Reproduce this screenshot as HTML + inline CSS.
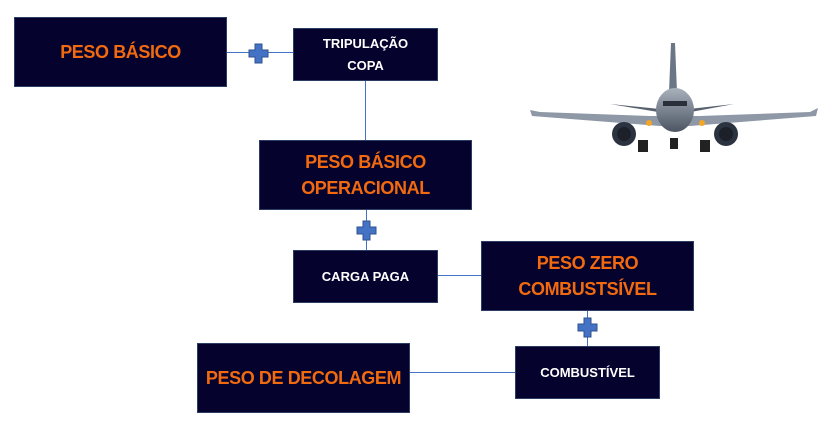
<!DOCTYPE html>
<html><head><meta charset="utf-8"><style>
body{margin:0;width:836px;height:425px;background:#fff;position:relative;overflow:hidden;font-family:"Liberation Sans",sans-serif}
.b{position:absolute;background:#05022e;border:1px solid #2c3d63;box-sizing:border-box;display:flex;align-items:center;justify-content:center;text-align:center;font-weight:bold}
.o{color:#f26a10;font-size:18px;line-height:26px;letter-spacing:-0.4px}
.w{color:#fff;font-size:13px;line-height:22px}
.h{position:absolute;height:1px;background:#4472c4}
.v{position:absolute;width:1px;background:#4472c4}
.p{position:absolute;width:21px;height:21px}
</style></head><body>
<div class="h" style="left:226px;top:52px;width:67px"></div>
<div class="v" style="left:365px;top:80px;height:60px"></div>
<div class="v" style="left:366px;top:209px;height:41px"></div>
<div class="h" style="left:437px;top:275px;width:44px"></div>
<div class="v" style="left:587px;top:310px;height:36px"></div>
<div class="h" style="left:409px;top:372px;width:106px"></div>

<div class="b o" style="left:14px;top:17px;width:213px;height:70px">PESO BÁSICO</div>
<div class="b w" style="left:293px;top:28px;width:145px;height:53px">TRIPULAÇÃO<br>COPA</div>
<div class="b o" style="left:259px;top:140px;width:213px;height:70px">PESO BÁSICO<br>OPERACIONAL</div>
<div class="b w" style="left:293px;top:250px;width:145px;height:53px">CARGA PAGA</div>
<div class="b o" style="left:481px;top:241px;width:213px;height:70px">PESO ZERO<br>COMBUSTSÍVEL</div>
<div class="b w" style="left:515px;top:346px;width:145px;height:53px">COMBUSTÍVEL</div>
<div class="b o" style="left:197px;top:343px;width:213px;height:70px">PESO DE DECOLAGEM</div>

<svg class="p" style="left:248px;top:43px" viewBox="0 0 21 21"><path d="M7 1h7v6h6v7h-6v6H7v-6H1V7h6z" fill="#4472c4" stroke="#2f528f" stroke-width="1"/></svg>
<svg class="p" style="left:356px;top:220px" viewBox="0 0 21 21"><path d="M7 1h7v6h6v7h-6v6H7v-6H1V7h6z" fill="#4472c4" stroke="#2f528f" stroke-width="1"/></svg>
<svg class="p" style="left:577px;top:317px" viewBox="0 0 21 21"><path d="M7 1h7v6h6v7h-6v6H7v-6H1V7h6z" fill="#4472c4" stroke="#2f528f" stroke-width="1"/></svg>

<svg style="position:absolute;left:520px;top:30px" width="310" height="140" viewBox="0 0 310 140">
<defs><linearGradient id="g" x1="0" y1="0" x2="0" y2="1"><stop offset="0" stop-color="#a9b1bd"/><stop offset="1" stop-color="#4c5563"/></linearGradient></defs>
<path d="M151 13 L155 13 L157 62 L149 62 Z" fill="#6b7686"/>
<path d="M10 80 L12 86 L140 96 L170 96 L296 86 L298 78 L290 82 L180 86 L130 86 L20 82 Z" fill="#8e98a6"/>
<path d="M90 74 L150 84 L160 84 L214 74 L160 80 L150 80 Z" fill="#59616e"/>
<ellipse cx="155" cy="80" rx="19" ry="22" fill="url(#g)"/>
<rect x="143" y="71" width="24" height="5" fill="#2a2f3a"/>
<circle cx="104" cy="104" r="12" fill="#2c3340"/><circle cx="104" cy="104" r="7" fill="#1b2029"/>
<circle cx="206" cy="104" r="12" fill="#2c3340"/><circle cx="206" cy="104" r="7" fill="#1b2029"/>
<rect x="118" y="110" width="10" height="12" fill="#222"/><rect x="180" y="110" width="10" height="12" fill="#222"/><rect x="150" y="108" width="8" height="11" fill="#222"/>
<circle cx="129" cy="93" r="3" fill="#f5a623"/><circle cx="182" cy="93" r="3" fill="#f5a623"/>
</svg>
</body></html>
